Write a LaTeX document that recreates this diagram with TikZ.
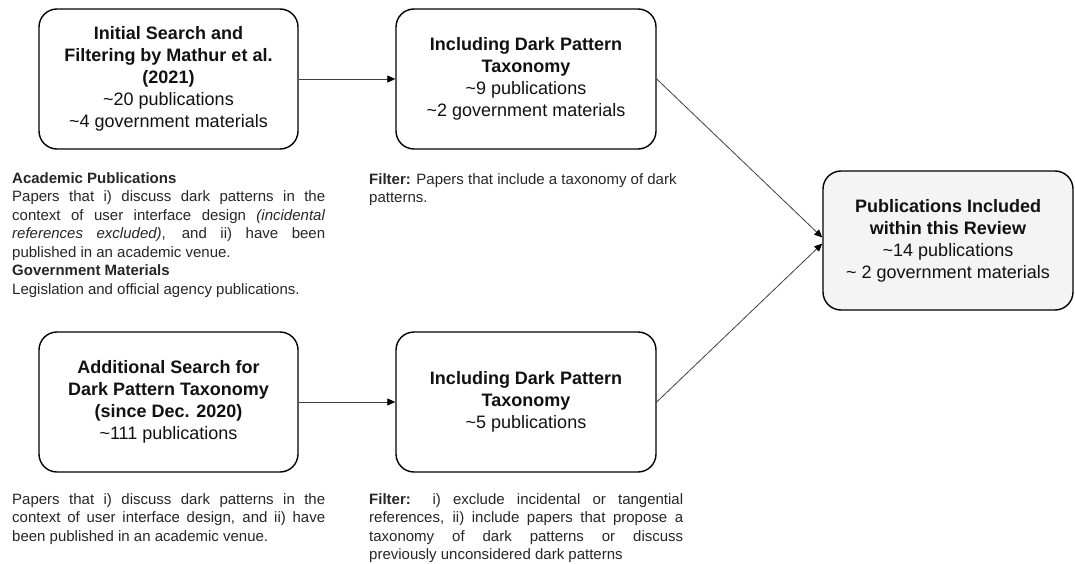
\documentclass[tikz,border=0pt]{standalone}
\usepackage{fontspec}
\setmainfont{Liberation Sans}
\usetikzlibrary{arrows.meta}
\definecolor{txt}{HTML}{111111}
\definecolor{note}{HTML}{262626}
\definecolor{finalfill}{HTML}{F4F4F4}
\tikzset{
  stagebox/.style={draw=black, line width=1.4pt, rounded corners=18pt, align=center, inner sep=0pt,
    font=\fontsize{18}{22}\selectfont, text=txt},
  notetext/.style={anchor=north west, align=left, inner sep=0pt, font=\fontsize{15}{18.5}\selectfont, text=note},
  flow/.style={draw=black!75, line width=0.8pt, -{Triangle[length=8pt,width=7pt,color=black]}},
}
\newcommand{\jl}[1]{\makebox[313pt][s]{#1}}
\begin{document}
\begin{tikzpicture}[x=1pt,y=-1pt]
\useasboundingbox (0,0) rectangle (1075,564);
\node[stagebox, minimum width=259pt, minimum height=140pt] (b1) at (168.5,79)
  {\textbf{Initial Search and}\\ \textbf{Filtering by Mathur et al.}\\ \textbf{(2021)}\\ \textasciitilde20 publications\\ \textasciitilde4 government materials};
\node[stagebox, minimum width=260pt, minimum height=140pt] (b2) at (526,79)
  {\textbf{Including Dark Pattern}\\ \textbf{Taxonomy}\\ \textasciitilde9 publications\\ \textasciitilde2 government materials};
\node[stagebox, fill=finalfill, minimum width=250pt, minimum height=139pt] (b3) at (948,240.5)
  {\textbf{Publications Included}\\ \textbf{within this Review}\\ \textasciitilde14 publications\\ \textasciitilde\ 2 government materials};
\node[stagebox, minimum width=259pt, minimum height=140pt] (b4) at (168.5,402)
  {\textbf{Additional Search for}\\ \textbf{Dark Pattern Taxonomy}\\ \textbf{(since Dec. 2020)}\\ \textasciitilde111 publications};
\node[stagebox, minimum width=260pt, minimum height=140pt] (b5) at (526,402)
  {\textbf{Including Dark Pattern}\\ \textbf{Taxonomy}\\ \textasciitilde5 publications};

\coordinate (in3a) at ([yshift=3pt]b3.west);
\coordinate (in3b) at ([yshift=-3pt]b3.west);
\draw[flow] (b1.east) -- (b2.west);
\draw[flow] (b4.east) -- (b5.west);
\draw[flow] (b2.east) -- (in3a);
\draw[flow] (b5.east) -- (in3b);

\node[notetext] (n1) at (12,172)
  {\textbf{Academic Publications}\\
   \jl{Papers that i) discuss dark patterns in the}\\
   \jl{context of user interface design \textit{(incidental}}\\
   \jl{\textit{references excluded)}, and ii) have been}\\
   published in an academic venue.\\
   \textbf{Government Materials}\\
   Legislation and official agency publications.};
\node[notetext] (n2) at (369,173)
  {\textbf{Filter:} Papers that include a taxonomy of dark\\ patterns.};
\node[notetext] (n3) at (12,493)
  {\jl{Papers that i) discuss dark patterns in the}\\
   \jl{context of user interface design, and ii) have}\\
   been published in an academic venue.};
\node[notetext] (n4) at (369,493)
  {\makebox[314pt][s]{\textbf{Filter:} i) exclude incidental or tangential}\\
   \makebox[314pt][s]{references, ii) include papers that propose a}\\
   \makebox[314pt][s]{taxonomy of dark patterns or discuss}\\
   previously unconsidered dark patterns};
\end{tikzpicture}
\end{document}
